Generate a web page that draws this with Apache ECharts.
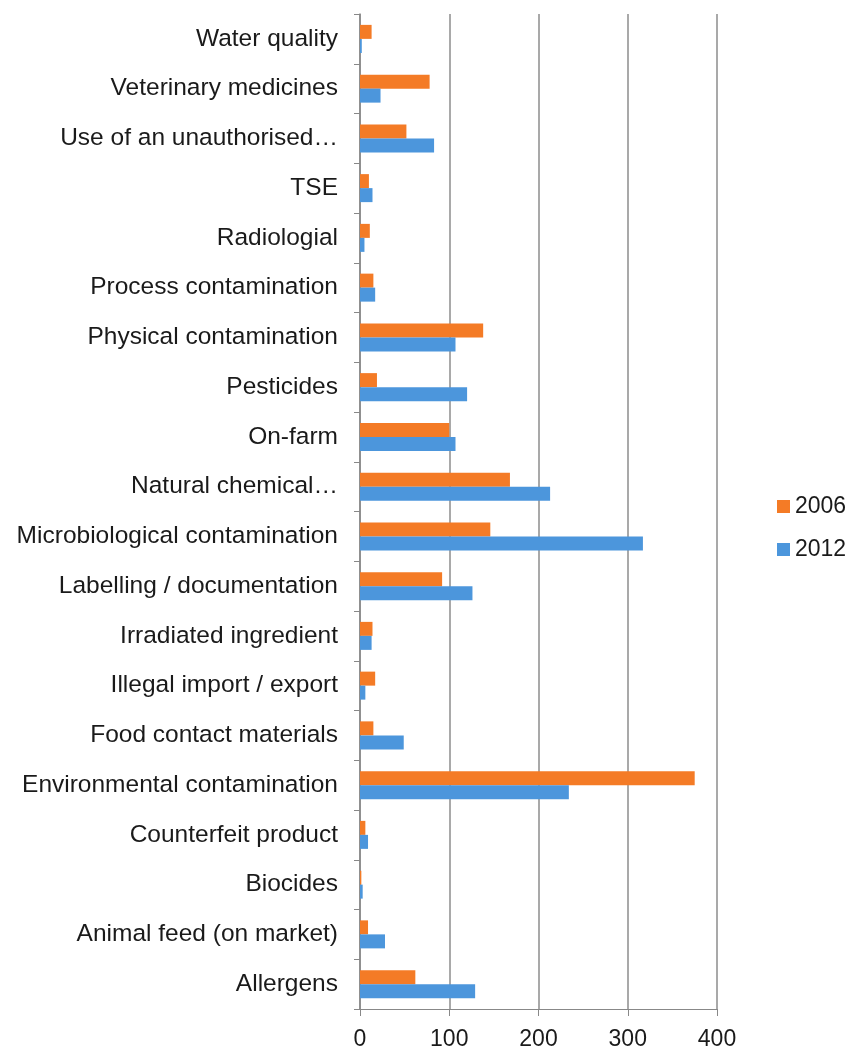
<!DOCTYPE html>
<html>
<head>
    <meta charset="utf-8">
    <script src="https://cdn.jsdelivr.net/npm/echarts@6/dist/echarts.min.js"></script>
    <style>
        html, body { margin: 0; width: 100%; height: 100%; background: #fff; }
        #main { width: 855px; height: 1055px; }
    </style>
</head>
<body>
<div id="main"></div>
<script>
    // categories listed bottom -> top (as the y category axis draws them)
    var categories = [
        'Allergens',
        'Animal feed (on market)',
        'Biocides',
        'Counterfeit product',
        'Environmental contamination',
        'Food contact materials',
        'Illegal import / export',
        'Irradiated ingredient',
        'Labelling / documentation',
        'Microbiological contamination',
        'Natural chemical…',
        'On-farm',
        'Pesticides',
        'Physical contamination',
        'Process contamination',
        'Radiologial',
        'TSE',
        'Use of an unauthorised…',
        'Veterinary medicines',
        'Water quality'
    ];
    var values2006 = [62, 9, 1.5, 6, 375, 15, 17, 14, 92, 146, 168, 100, 19, 138, 15, 11, 10, 52, 78, 13];
    var values2012 = [129, 28, 3, 9, 234, 49, 6, 13, 126, 317, 213, 107, 120, 107, 17, 5, 14, 83, 23, 2];
    var xTicks = [0, 100, 200, 300, 400];

    var chart = echarts.init(document.getElementById('main'));
    var font = 'Liberation Sans';

    var option = {
        animation: false,
        grid: { left: 360, right: 138, top: 14, bottom: 46 },
        legend: {
            data: ['2006', '2012'],
            orient: 'vertical',
            left: 777,
            top: 495,
            padding: 0,
            itemWidth: 13,
            itemHeight: 13,
            itemGap: 20,
            icon: 'rect',
            textStyle: { fontFamily: font, fontSize: 23, color: '#1a1a1a' }
        },
        xAxis: {
            type: 'value',
            min: xTicks[0],
            max: xTicks[xTicks.length - 1],
            interval: 100,
            axisLine: { show: true, lineStyle: { color: '#888', width: 1 } },
            axisTick: { show: true, length: 7, lineStyle: { color: '#888' } },
            axisLabel: { fontFamily: font, fontSize: 23, color: '#1a1a1a', margin: 19 },
            splitLine: { show: true, lineStyle: { color: '#8c8c8c', width: 1.5 } }
        },
        yAxis: {
            type: 'category',
            data: categories,
            axisLine: { show: true, lineStyle: { color: '#888', width: 1.5 } },
            axisTick: { show: true, length: 6, lineStyle: { color: '#888' } },
            axisLabel: { fontFamily: font, fontSize: 24.5, color: '#1a1a1a', margin: 22, interval: 0 }
        },
        series: [
            {
                name: '2006',
                type: 'bar',
                data: values2006,
                barWidth: 14,
                barGap: '0%',
                itemStyle: { color: '#F47B26' }
            },
            {
                name: '2012',
                type: 'bar',
                data: values2012,
                barWidth: 14,
                barGap: '0%',
                itemStyle: { color: '#4C96DC' }
            }
        ]
    };
    chart.setOption(option);
</script>
</body>
</html>
